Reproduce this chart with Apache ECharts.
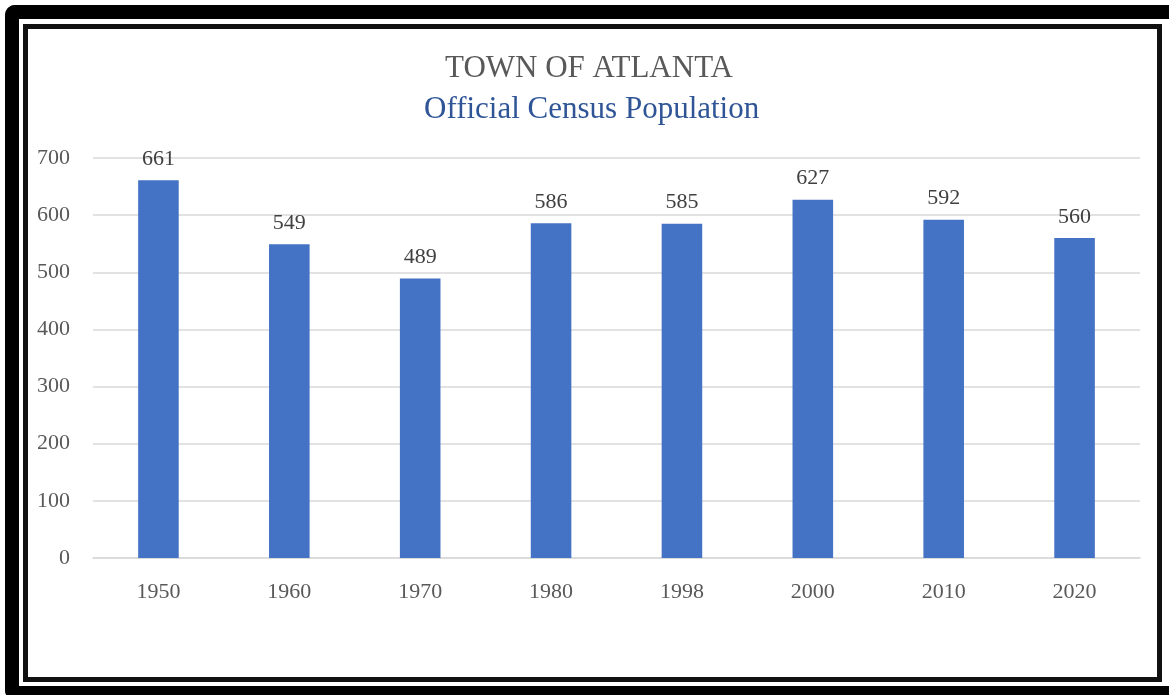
<!DOCTYPE html>
<html>
<head>
<meta charset="utf-8">
<script src="https://cdn.jsdelivr.net/npm/echarts@6/dist/echarts.min.js"></script>
<style>
  html, body { margin: 0; padding: 0; background: #fff; }
  #wrap { position: relative; width: 1169px; height: 695px; overflow: hidden; background: #fff; }
  #chart { position: absolute; left: 0; top: 0; width: 1169px; height: 695px; }
  .outer { position: absolute; left: 5px; top: 5px; width: 1150px; height: 667px;
           border-top: 14px solid #000; border-left: 14px solid #000; border-bottom: 14px solid #000;
           border-right: 1px solid #999; border-radius: 10px 0 0 10px; pointer-events: none; }
  .topcap { position: absolute; left: 1150px; top: 5px; width: 19px; height: 14px; background: #000; pointer-events: none; }
  .inner { position: absolute; left: 23px; top: 24px; width: 1129px; height: 648px;
           border: 5px solid #111; pointer-events: none; }
</style>
</head>
<body>
<div id="wrap">
  <div id="chart"></div>
  <div class="outer"></div>
  <div class="topcap"></div>
  <div class="inner"></div>
</div>
<script>
const titleText = 'TOWN OF ATLANTA';
const subtitleText = 'Official Census Population';
const years = ['1950', '1960', '1970', '1980', '1998', '2000', '2010', '2020'];
const population = [661, 549, 489, 586, 585, 627, 592, 560];
const yTicks = [0, 100, 200, 300, 400, 500, 600, 700];

const serif = '"Liberation Serif", "Times New Roman", serif';
const chart = echarts.init(document.getElementById('chart'));
chart.setOption({
  backgroundColor: '#fff',
  animation: false,
  title: [
    { text: titleText, left: 440, top: 48,
      textStyle: { fontFamily: serif, fontSize: 31, fontWeight: 'normal', color: '#595959' } },
    { text: subtitleText, left: 419, top: 89,
      textStyle: { fontFamily: serif, fontSize: 31, fontWeight: 'normal', color: '#2F5597' } }
  ],
  grid: { left: 93, right: 29, top: 158, bottom: 137 },
  xAxis: {
    type: 'category',
    data: years,
    axisLine: { show: true, lineStyle: { color: '#D9D9D9', width: 1.5 } },
    axisTick: { show: false },
    axisLabel: { fontFamily: serif, fontSize: 22, color: '#595959', margin: 23 }
  },
  yAxis: {
    type: 'value',
    min: yTicks[0],
    max: yTicks[yTicks.length - 1],
    interval: 100,
    axisLine: { show: false },
    axisTick: { show: false },
    splitLine: { lineStyle: { color: '#D9D9D9', width: 1.5 } },
    axisLabel: { fontFamily: serif, fontSize: 22, color: '#595959', margin: 23 }
  },
  series: [{
    type: 'bar',
    data: population,
    barWidth: '31%',
    itemStyle: { color: '#4472C4' },
    label: { show: true, position: 'top', distance: 10,
             fontFamily: serif, fontSize: 22, color: '#404040' }
  }]
});
</script>
</body>
</html>
